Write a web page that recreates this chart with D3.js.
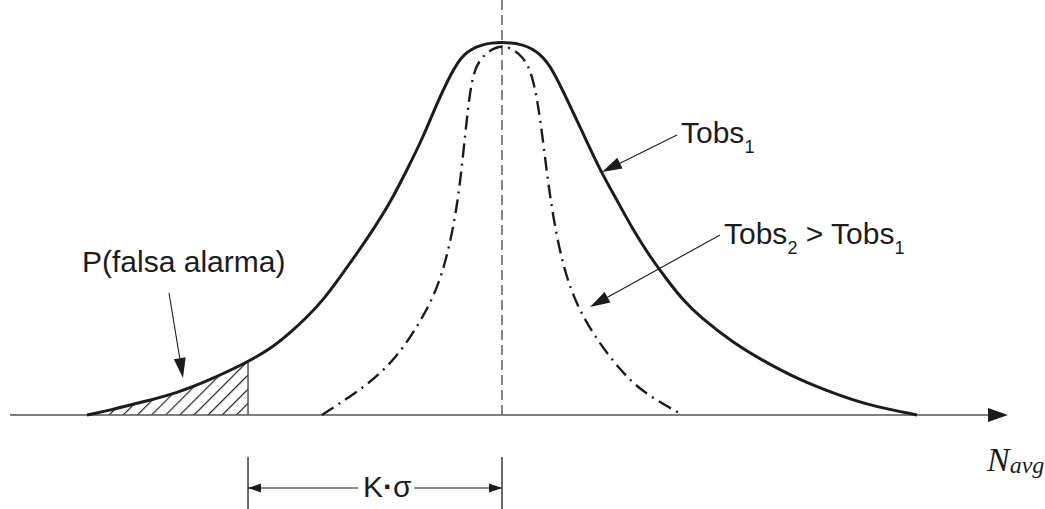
<!DOCTYPE html>
<html>
<head>
<meta charset="utf-8">
<script src="https://cdn.jsdelivr.net/npm/d3@7"></script>
<style>
  html, body { margin: 0; padding: 0; background: #fff; }
  svg { display: block; }
</style>
</head>
<body>
<div id="app"></div>
<script>
'use strict';

// solid curve (Tobs1), x in arbitrary units, 0 = mean
const solidX = [-10, -9.45, -8.65, -7.83, -7.04, -6.12, -5.52, -5.11, -4.70, -4.31, -3.90, -3.49, -3.11, -2.70, -2.29, -1.90, -1.57, -1.23, -0.94, -0.48, 0,
  0.51, 0.92, 1.23, 1.57, 1.95, 2.36, 2.77, 3.16, 3.57, 3.98, 4.36, 4.77, 5.57, 6.39, 7.18, 7.98, 8.80, 10];
const solidY = [0, 0.013, 0.035, 0.059, 0.094, 0.142, 0.182, 0.220, 0.262, 0.308, 0.370, 0.434, 0.496, 0.568, 0.657, 0.745, 0.835, 0.915, 0.970, 0.995, 1,
  0.995, 0.97, 0.925, 0.845, 0.756, 0.657, 0.576, 0.496, 0.424, 0.362, 0.308, 0.263, 0.193, 0.139, 0.094, 0.059, 0.027, 0];

// dash-dot curve (Tobs2 > Tobs1)
const dashX = [-4.34, -3.90, -3.18, -2.53, -1.98, -1.57, -1.30, -1.08, -0.94, -0.82, -0.70, -0.50, 0,
  0.53, 0.75, 0.92, 1.08, 1.23, 1.47, 1.81, 2.29, 2.84, 3.40, 4.36];
const dashY = [0, 0.032, 0.086, 0.155, 0.247, 0.335, 0.434, 0.558, 0.692, 0.826, 0.917, 0.962, 1,
  0.962, 0.906, 0.799, 0.649, 0.531, 0.397, 0.290, 0.201, 0.121, 0.059, 0];

// threshold (K·sigma below the mean)
const threshold = -6.12;

const width = 1045;
const height = 509;

const x = d3.scaleLinear().domain([-10, 10]).range([87, 917]);
const y = d3.scaleLinear().domain([0, 1]).range([415, 42]);

const solid = solidX.map((v, i) => ({x: v, y: solidY[i]}));
const dashed = dashX.map((v, i) => ({x: v, y: dashY[i]}));

const svg = d3.select("#app")
  .append("svg")
  .attr("width", width)
  .attr("height", height)
  .attr("viewBox", [0, 0, width, height]);

const ink = "#1c1c1c";

// hatch pattern
svg.append("defs")
  .append("pattern")
    .attr("id", "hatch")
    .attr("patternUnits", "userSpaceOnUse")
    .attr("width", 10)
    .attr("height", 10)
    .attr("patternTransform", "rotate(45)")
  .append("line")
    .attr("x1", 0.5).attr("y1", 0)
    .attr("x2", 0.5).attr("y2", 10)
    .attr("stroke", "#222")
    .attr("stroke-width", 1.4);

const line = d3.line()
  .x(d => x(d.x))
  .y(d => y(d.y))
  .curve(d3.curveBasis);

const area = d3.area()
  .x(d => x(d.x))
  .y0(y(0))
  .y1(d => y(d.y))
  .curve(d3.curveBasis);

// hatched tail
svg.append("path")
  .datum(solid.filter(d => d.x <= threshold))
  .attr("fill", "url(#hatch)")
  .attr("d", area);

// threshold line
const tPoint = solid.find(d => d.x === threshold);
svg.append("line")
  .attr("x1", x(threshold)).attr("x2", x(threshold))
  .attr("y1", y(tPoint.y)).attr("y2", y(0))
  .attr("stroke", "#555")
  .attr("stroke-width", 1.5);

// center dashed line
svg.append("line")
  .attr("x1", x(0)).attr("x2", x(0))
  .attr("y1", 0).attr("y2", y(0))
  .attr("stroke", "#333")
  .attr("stroke-width", 1.2)
  .attr("stroke-dasharray", "10,5");

// baseline axis with arrow
const axisY = y(0);
svg.append("line")
  .attr("x1", 10).attr("x2", 992)
  .attr("y1", axisY).attr("y2", axisY)
  .attr("stroke", "#555")
  .attr("stroke-width", 1.3);
svg.append("path")
  .attr("d", `M1008,${axisY} L988,${axisY - 7} L988,${axisY + 7} Z`)
  .attr("fill", ink);

// curves
svg.append("path")
  .datum(dashed)
  .attr("fill", "none")
  .attr("stroke", ink)
  .attr("stroke-width", 2.4)
  .attr("stroke-dasharray", "14,6,2,6")
  .attr("d", line);

svg.append("path")
  .datum(solid)
  .attr("fill", "none")
  .attr("stroke", ink)
  .attr("stroke-width", 3)
  .attr("d", line);

// leader arrows
function leader(x1, y1, x2, y2) {
  const a = Math.atan2(y2 - y1, x2 - x1);
  const len = 20, hw = 6;
  const bx = x2 - len * Math.cos(a), by = y2 - len * Math.sin(a);
  svg.append("line")
    .attr("x1", x1).attr("y1", y1)
    .attr("x2", bx).attr("y2", by)
    .attr("stroke", ink)
    .attr("stroke-width", 1.1);
  svg.append("path")
    .attr("d", `M${x2},${y2} L${bx - hw * Math.sin(a)},${by + hw * Math.cos(a)} L${bx + hw * Math.sin(a)},${by - hw * Math.cos(a)} Z`)
    .attr("fill", ink);
}
leader(677, 135, 602, 172);
leader(720, 235, 590, 307);
leader(169, 293, 183, 378);

// labels
const font = "'Liberation Sans', Arial, sans-serif";
const t1 = svg.append("text")
  .attr("x", 681).attr("y", 143)
  .attr("font-family", font).attr("font-size", 30).attr("fill", ink);
t1.append("tspan").text("Tobs");
t1.append("tspan").attr("font-size", 18).attr("dy", 10).text("1");

const t2 = svg.append("text")
  .attr("x", 724).attr("y", 244)
  .attr("font-family", font).attr("font-size", 30).attr("fill", ink);
t2.append("tspan").text("Tobs");
t2.append("tspan").attr("font-size", 18).attr("dy", 10).text("2");
t2.append("tspan").attr("dy", -10).text(" > Tobs");
t2.append("tspan").attr("font-size", 18).attr("dy", 10).text("1");

svg.append("text")
  .attr("x", 82).attr("y", 272)
  .attr("font-family", font).attr("font-size", 30).attr("fill", ink)
  .text("P(falsa alarma)");

// N_avg
const n = svg.append("text")
  .attr("x", 987).attr("y", 471)
  .attr("font-family", "'Liberation Serif', 'Times New Roman', serif")
  .attr("font-style", "italic")
  .attr("font-size", 34)
  .attr("fill", ink);
n.append("tspan").text("N");
n.append("tspan").attr("font-size", 24).attr("dy", 2).text("avg");

// K·sigma dimension
const dimY = 488;
const xa = x(threshold), xb = x(0);
[xa, xb].forEach(v => {
  svg.append("line")
    .attr("x1", v).attr("x2", v)
    .attr("y1", 457).attr("y2", height)
    .attr("stroke", ink)
    .attr("stroke-width", 1.3);
});
svg.append("line")
  .attr("x1", xa).attr("x2", 358)
  .attr("y1", dimY).attr("y2", dimY)
  .attr("stroke", ink).attr("stroke-width", 1.2);
svg.append("line")
  .attr("x1", 414).attr("x2", xb)
  .attr("y1", dimY).attr("y2", dimY)
  .attr("stroke", ink).attr("stroke-width", 1.2);
svg.append("path")
  .attr("d", `M${xa},${dimY} L${xa + 13},${dimY - 4.5} L${xa + 13},${dimY + 4.5} Z`)
  .attr("fill", ink);
svg.append("path")
  .attr("d", `M${xb},${dimY} L${xb - 13},${dimY - 4.5} L${xb - 13},${dimY + 4.5} Z`)
  .attr("fill", ink);
const k = svg.append("text")
  .attr("x", 363).attr("y", 497)
  .attr("font-family", font).attr("font-size", 30).attr("fill", ink);
k.append("tspan").text("K");
k.append("tspan").attr("font-weight", "bold").text("·");
k.append("tspan").attr("font-weight", "300").text("σ");
</script>
</body>
</html>
